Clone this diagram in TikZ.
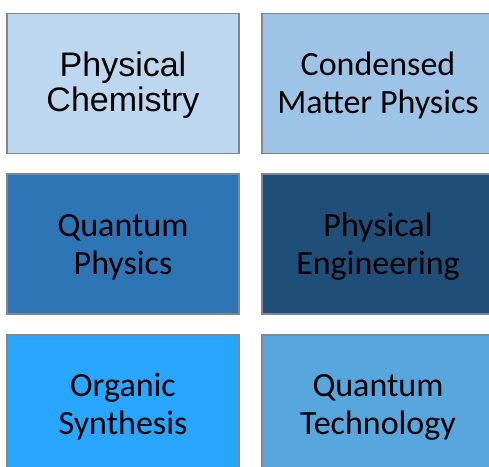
\documentclass[tikz,border=0pt]{standalone}
\usepackage{fontspec}
\setmainfont{Carlito}
\newfontfamily\arialfont{Liberation Sans}
\definecolor{fillA}{HTML}{BDD7EE}
\definecolor{fillB}{HTML}{9DC3E6}
\definecolor{fillC}{HTML}{2E75B6}
\definecolor{fillD}{HTML}{1F4E79}
\definecolor{fillE}{HTML}{29A6FF}
\definecolor{fillF}{HTML}{58A6DE}
\definecolor{edge}{HTML}{7F8790}
\begin{document}
\begin{tikzpicture}[x=1pt,y=-1pt,
  tile/.style={draw=edge, line width=1.2pt, minimum width=232pt, minimum height=140pt,
    inner sep=0pt, align=center, text=black, font=\fontsize{34}{38}\selectfont},
  label/.style={align=center, inner sep=0pt, text=black, font=\fontsize{34}{38}\selectfont}]
\useasboundingbox (0,0) rectangle (489,466);
% boxes
\node[tile, fill=fillA] (pc) at (123,83.5) {};
\node[tile, fill=fillB] (cmp) at (378,83.5) {};
\node[tile, fill=fillC] (qp) at (123,244) {};
\node[tile, fill=fillD] (pe) at (378,244) {};
\node[tile, fill=fillE] (os) at (123,405) {};
\node[tile, fill=fillF] (qt) at (378,405) {};
% captions
\node[label, font=\arialfont\fontsize{34}{35}\selectfont] at ([yshift=-1.5pt]pc.center) {Physical\\Chemistry};
\node[label] at ([yshift=-2pt]cmp.center) {Condensed\\Matter Physics};
\node[label] at ([yshift=-3pt]qp.center) {Quantum\\Physics};
\node[label] at ([yshift=-3pt]pe.center) {Physical\\Engineering};
\node[label] at ([yshift=-2pt]os.center) {Organic\\Synthesis};
\node[label] at ([yshift=-2pt]qt.center) {Quantum\\Technology};
\end{tikzpicture}
\end{document}
